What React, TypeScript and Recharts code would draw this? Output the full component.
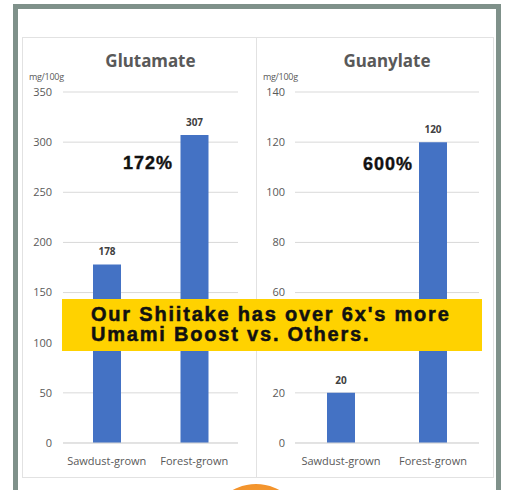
import React from 'react';
import { BarChart, Bar, XAxis, YAxis, CartesianGrid, LabelList } from 'recharts';

const categories = ['Sawdust-grown', 'Forest-grown'];
const glutamateValues = [178, 307];
const guanylateValues = [20, 120];
const glutamateTicks = [0, 50, 100, 150, 200, 250, 300, 350];
const guanylateTicks = [0, 20, 40, 60, 80, 100, 120, 140];

const BLUE = '#4472C4';
const GRID = '#d9d9d9';
const TEXT_GRAY = '#595959';

const tickFont = { fill: TEXT_GRAY, fontSize: 11, fontFamily: '"Open Sans", sans-serif' };

interface PanelProps {
    title: string;
    values: number[];
    ticks: number[];
    left: number;
    width: number;
    yWidth: number;
    rightMargin: number;
    tickGap: number;
}

const Panel: React.FC<PanelProps> = ({ title, values, ticks, left, width, yWidth, rightMargin, tickGap }) => {
    const data = categories.map((name, i) => ({ name, value: values[i] }));
    const max = ticks[ticks.length - 1];

    return (
        <div style={{ position: 'absolute', left, top: 37, width, height: 440 }}>
            <div
                style={{
                    position: 'absolute',
                    left: yWidth,
                    width: width - yWidth - rightMargin,
                    top: 12,
                    textAlign: 'center',
                    fontFamily: '"Noto Sans", sans-serif',
                    fontWeight: 700,
                    fontSize: 17,
                    color: TEXT_GRAY,
                }}
            >
                {title}
            </div>
            <div
                style={{
                    position: 'absolute',
                    left: 7,
                    top: 35,
                    fontFamily: '"Open Sans", sans-serif',
                    fontSize: 9,
                    lineHeight: '10px',
                    color: TEXT_GRAY,
                    letterSpacing: -0.3,
                }}
            >
                mg/100g
            </div>
            <BarChart
                width={width}
                height={440}
                data={data}
                margin={{ top: 55, right: rightMargin, left: 0, bottom: 4 }}
            >
                <CartesianGrid vertical={false} stroke={GRID} />
                <XAxis
                    dataKey="name"
                    tickLine={false}
                    axisLine={{ stroke: GRID }}
                    tickSize={0}
                    tickMargin={14}
                    height={30}
                    interval={0}
                    tick={tickFont}
                />
                <YAxis
                    type="number"
                    domain={[0, max]}
                    ticks={ticks}
                    width={yWidth}
                    axisLine={false}
                    tickLine={false}
                    tickSize={0}
                    tickMargin={tickGap}
                    tick={tickFont}
                />
                <Bar dataKey="value" fill={BLUE} barSize={28} isAnimationActive={false}>
                    <LabelList
                        dataKey="value"
                        position="top"
                        offset={9}
                        style={{ fill: '#404040', fontSize: 10, fontWeight: 700, fontFamily: '"Open Sans", sans-serif' }}
                    />
                </Bar>
            </BarChart>
        </div>
    );
};

const pctStyle: React.CSSProperties = {
    position: 'absolute',
    fontFamily: '"Liberation Sans", Arial, sans-serif',
    fontWeight: 700,
    fontSize: 18,
    letterSpacing: 1,
    color: '#111',
    lineHeight: '18px',
    WebkitTextStroke: '0.4px #111',
};

const App: React.FC = () => {
    return (
        <div
            style={{
                position: 'absolute',
                left: 0,
                top: 0,
                width: 505,
                height: 490,
                overflow: 'hidden',
                background: '#fff',
            }}
        >
            {/* outer frame */}
            <div
                style={{
                    position: 'absolute',
                    left: 13,
                    top: 4,
                    width: 478,
                    height: 520,
                    border: '5px solid #7f918a',
                    background: '#fff',
                }}
            />
            {/* inner panel */}
            <div
                style={{
                    position: 'absolute',
                    left: 22,
                    top: 37,
                    width: 470,
                    height: 439,
                    border: '1px solid #e2e2e2',
                }}
            />
            <div style={{ position: 'absolute', left: 256, top: 37, width: 1, height: 440, background: '#e2e2e2' }} />

            <Panel title="Glutamate" values={glutamateValues} ticks={glutamateTicks} left={22} width={234} yWidth={41} rightMargin={18} tickGap={11} />
            <Panel title="Guanylate" values={guanylateValues} ticks={guanylateTicks} left={256} width={237} yWidth={39} rightMargin={14} tickGap={10} />

            <div style={{ ...pctStyle, left: 123, top: 154 }}>172%</div>
            <div style={{ ...pctStyle, left: 363, top: 155 }}>600%</div>

            {/* banner */}
            <div
                style={{
                    position: 'absolute',
                    left: 62,
                    top: 299,
                    width: 420,
                    height: 52,
                    background: '#FFD200',
                    boxSizing: 'border-box',
                    paddingLeft: 29,
                    paddingTop: 5,
                    fontFamily: '"Liberation Sans", Arial, sans-serif',
                    fontWeight: 700,
                    fontSize: 20,
                    lineHeight: '20px',
                    letterSpacing: 1.8,
                    WebkitTextStroke: '0.5px #111',
                    color: '#111',
                    whiteSpace: 'nowrap',
                }}
            >
                Our Shiitake has over 6x's more
                <br />
                Umami Boost vs. Others.
            </div>

            {/* orange badge peeking at the bottom */}
            <div
                style={{
                    position: 'absolute',
                    left: 208,
                    top: 484,
                    width: 96,
                    height: 96,
                    borderRadius: '50%',
                    background: 'radial-gradient(circle at 50% 30%, #f7a23a, #ec7a14)',
                }}
            />
        </div>
    );
};

export default App;
